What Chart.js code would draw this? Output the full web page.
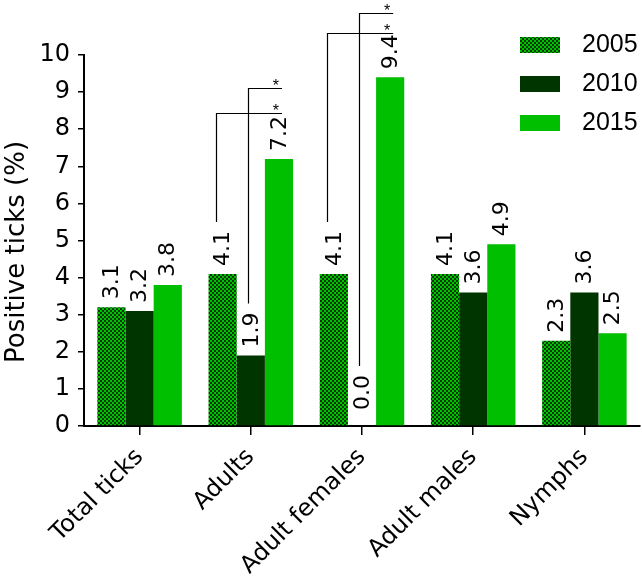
<!DOCTYPE html>
<html>
<head>
<meta charset="utf-8">
<script src="https://cdn.jsdelivr.net/npm/chart.js@4.4.1/dist/chart.umd.min.js"></script>
<style>
html,body{margin:0;padding:0;background:#fff;}
#wrap{width:642px;height:578px;}
</style>
</head>
<body>
<div id="wrap"><canvas id="c" width="642" height="578"></canvas></div>
<script>
const categories = ["Total ticks", "Adults", "Adult females", "Adult males", "Nymphs"];
const seriesNames = ["2005", "2010", "2015"];
const values2005 = [3.2, 4.1, 4.1, 4.1, 2.3];
const values2010 = [3.1, 1.9, 0.0, 3.6, 3.6];
const values2015 = [3.8, 7.2, 9.4, 4.9, 2.5];
const labels2005 = ["3.1", "4.1", "4.1", "4.1", "2.3"];
const labels2010 = ["3.2", "1.9", "0.0", "3.6", "3.6"];
const labels2015 = ["3.8", "7.2", "9.4", "4.9", "2.5"];
const yTicks = [0, 1, 2, 3, 4, 5, 6, 7, 8, 9, 10];
const yTitle = "Positive ticks (%)";
const sigCategoryIdx = [1, 2];

const FONT = "'DejaVu Sans', sans-serif";
const FONT_L = "'Liberation Sans', Arial, sans-serif";

function checker() {
  const p = document.createElement('canvas');
  p.width = 4; p.height = 4;
  const g = p.getContext('2d');
  g.fillStyle = '#00c200'; g.fillRect(0, 0, 4, 4);
  g.fillStyle = '#023a02'; g.fillRect(0, 0, 2, 2); g.fillRect(2, 2, 2, 2);
  return document.getElementById('c').getContext('2d').createPattern(p, 'repeat');
}
const pat = checker();
const colors = [pat, '#003500', '#00be00'];
const valueLabels = [labels2005, labels2010, labels2015];

const overlay = {
  id: 'overlay',
  afterDatasetsDraw(chart) {
    const ctx = chart.ctx;
    const y = chart.scales.y;
    const base = y.getPixelForValue(0);
    ctx.save();
    ctx.fillStyle = '#000';
    ctx.font = '22px ' + FONT;
    const tops = [];
    chart.data.datasets.forEach((ds, i) => {
      const meta = chart.getDatasetMeta(i);
      tops[i] = [];
      meta.data.forEach((bar, j) => {
        const txt = valueLabels[i][j];
        const start = Math.min(bar.y - 8, base - 16);
        const w = ctx.measureText(txt).width;
        tops[i][j] = start - w;
        ctx.save();
        ctx.translate(bar.x + 1, start);
        ctx.rotate(-Math.PI / 2);
        ctx.textAlign = 'left';
        ctx.textBaseline = 'middle';
        ctx.fillText(txt, 0, 0);
        ctx.restore();
      });
    });
    const levels = [[8.44, 9.11], [10.59, 11.13]];
    ctx.strokeStyle = '#000';
    ctx.lineWidth = 1.2;
    sigCategoryIdx.forEach((j, k) => {
      const b0 = chart.getDatasetMeta(0).data[j];
      const b1 = chart.getDatasetMeta(1).data[j];
      const b2 = chart.getDatasetMeta(2).data[j];
      const yLow = Math.round(y.getPixelForValue(levels[k][0])) + 0.5;
      const yHigh = Math.round(y.getPixelForValue(levels[k][1])) + 0.5;
      const x0 = Math.round(b0.x - 7) + 0.5;
      const x1 = Math.round(b1.x - 3) + 0.5;
      const xe = b2.x + 3;
      ctx.beginPath();
      ctx.moveTo(x0, tops[0][j] - 9);
      ctx.lineTo(x0, yLow);
      ctx.lineTo(xe, yLow);
      ctx.moveTo(x1, tops[1][j] - 9);
      ctx.lineTo(x1, yHigh);
      ctx.lineTo(xe, yHigh);
      ctx.stroke();
      ctx.font = '16px ' + FONT_L;
      ctx.textAlign = 'center';
      ctx.textBaseline = 'alphabetic';
      ctx.fillText('*', xe - 6, yLow + 2);
      ctx.fillText('*', xe - 6, yHigh + 2);
    });
    ctx.save();
    ctx.font = '26px ' + FONT;
    ctx.translate(17, 252);
    ctx.rotate(-Math.PI / 2);
    ctx.textAlign = 'center';
    ctx.textBaseline = 'middle';
    ctx.fillStyle = '#000';
    ctx.fillText(yTitle, 0, 0);
    ctx.restore();
    ctx.font = '25px ' + FONT_L;
    ctx.textAlign = 'left';
    ctx.textBaseline = 'middle';
    chart.data.datasets.forEach((ds, i) => {
      const by = 37 + i * 39;
      ctx.fillStyle = ds.backgroundColor;
      ctx.fillRect(520, by, 40, 16);
      ctx.fillStyle = '#000';
      ctx.fillText(ds.label, 582, by + 8);
    });
    ctx.restore();
  }
};

new Chart(document.getElementById('c'), {
  type: 'bar',
  data: {
    labels: categories,
    datasets: [
      { label: seriesNames[0], data: values2005, backgroundColor: colors[0] },
      { label: seriesNames[1], data: values2010, backgroundColor: colors[1] },
      { label: seriesNames[2], data: values2015, backgroundColor: colors[2] }
    ]
  },
  options: {
    responsive: false,
    animation: false,
    devicePixelRatio: 1,
    layout: { padding: { top: 55, right: 2, left: 0, bottom: 0 } },
    datasets: { bar: { categoryPercentage: 0.76, barPercentage: 1.0, borderWidth: 0 } },
    plugins: { legend: { display: false }, tooltip: { enabled: false } },
    scales: {
      x: {
        grid: { display: true, drawOnChartArea: false, offset: false, tickLength: 9, color: '#000', lineWidth: 1.5 },
        border: { display: true, color: '#000', width: 2 },
        ticks: { color: '#000', font: { family: FONT, size: 24 }, minRotation: 45, maxRotation: 45, padding: 8 },
        afterFit(s) { s.height = 152; }
      },
      y: {
        min: 0, max: 10,
        afterBuildTicks(s) { s.ticks = yTicks.map(v => ({ value: v })); },
        grid: { display: true, drawOnChartArea: false, tickLength: 6, color: '#000', lineWidth: 1.5 },
        border: { display: true, color: '#000', width: 2 },
        ticks: { color: '#000', font: { family: FONT, size: 24 }, padding: 8 },
        title: { display: false },
        afterFit(s) { s.width = 84; }
      }
    }
  },
  plugins: [overlay]
});
</script>
</body>
</html>
